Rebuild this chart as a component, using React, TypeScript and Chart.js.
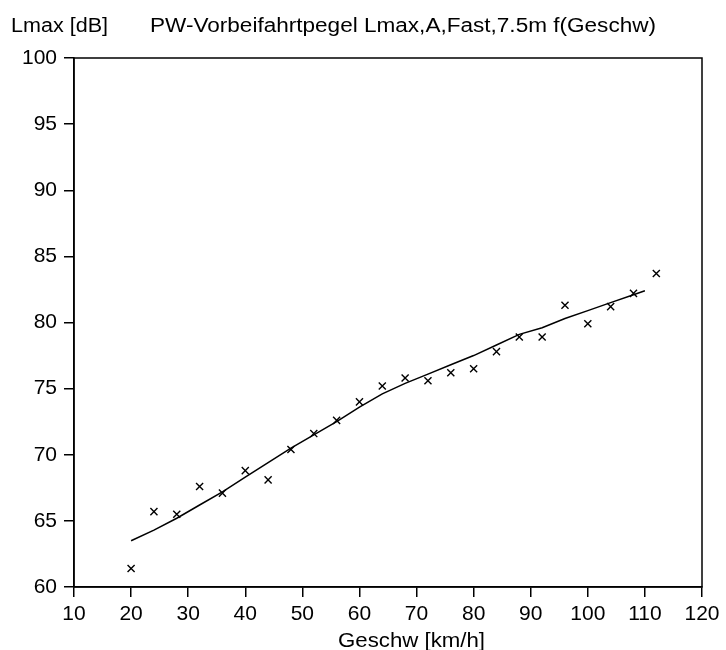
import React, { useEffect, useRef } from "react";
import { Chart, registerables } from "chart.js";

Chart.register(...registerables);

// Measured points (speed km/h, level dB)
const measuredSpeeds = [20, 24, 28, 32, 36, 40, 44, 48, 52, 56, 60, 64, 68, 72, 76, 80, 84, 88, 92, 96, 100, 104, 108, 112];
const measuredLevels = [61.4, 65.7, 65.5, 67.6, 67.1, 68.8, 68.1, 70.4, 71.6, 72.6, 74.0, 75.2, 75.8, 75.6, 76.2, 76.5, 77.8, 78.9, 78.9, 81.3, 79.9, 81.2, 82.2, 83.7];

// Fitted curve
const fitSpeeds = [20, 24, 28, 32, 36, 40, 44, 48, 52, 56, 60, 64, 68, 72, 76, 80, 84, 88, 92, 96, 100, 104, 108, 110];
const fitLevels = [63.5, 64.3, 65.2, 66.2, 67.2, 68.3, 69.4, 70.5, 71.5, 72.5, 73.6, 74.6, 75.4, 76.1, 76.8, 77.5, 78.3, 79.1, 79.6, 80.3, 80.9, 81.5, 82.1, 82.4];

const yAxisLabel = "Lmax [dB]";
const chartTitle = "PW-Vorbeifahrtpegel Lmax,A,Fast,7.5m f(Geschw)";
const xAxisLabel = "Geschw [km/h]";

const FONT = "'Liberation Sans', Arial, Helvetica, sans-serif";

function drawStretched(
  ctx: CanvasRenderingContext2D,
  text: string,
  left: number,
  baseline: number,
  targetWidth: number
) {
  const w = ctx.measureText(text).width;
  const sx = targetWidth / w;
  ctx.save();
  ctx.translate(left, baseline);
  ctx.scale(sx, 1);
  ctx.textAlign = "left";
  ctx.textBaseline = "alphabetic";
  ctx.fillText(text, 0, 0);
  ctx.restore();
}

export default function App() {
  const ref = useRef<HTMLCanvasElement | null>(null);

  useEffect(() => {
    if (!ref.current) return;

    const textPlugin = {
      id: "texts",
      afterDraw(chart: any) {
        const ctx = chart.ctx as CanvasRenderingContext2D;
        const a = chart.chartArea;
        ctx.save();
        ctx.strokeStyle = "#000";
        ctx.lineWidth = 1.5;
        ctx.strokeRect(a.left, a.top, a.right - a.left, a.bottom - a.top);
        ctx.fillStyle = "#000";
        ctx.font = `20px ${FONT}`;
        drawStretched(ctx, yAxisLabel, 11, 32, 97);
        drawStretched(ctx, chartTitle, 150, 32, 506);
        drawStretched(ctx, xAxisLabel, 338, 647, 147);
        ctx.restore();
      },
    };

    const chart = new Chart(ref.current, {
      type: "scatter",
      data: {
        datasets: [
          {
            label: "Messwerte",
            data: measuredSpeeds.map((x, i) => ({ x, y: measuredLevels[i] })),
            showLine: false,
            pointStyle: "crossRot",
            pointRadius: 5,
            pointBorderWidth: 1.4,
            borderColor: "#000",
            backgroundColor: "#000",
          },
          {
            label: "Regression",
            data: fitSpeeds.map((x, i) => ({ x, y: fitLevels[i] })),
            showLine: true,
            pointRadius: 0,
            borderColor: "#000",
            borderWidth: 1.5,
            tension: 0,
            fill: false,
          },
        ],
      },
      options: {
        animation: false,
        responsive: false,
        devicePixelRatio: 1,
        layout: { padding: { top: 58, right: 24, left: 0, bottom: 0 } },
        plugins: {
          legend: { display: false },
          tooltip: { enabled: false },
          title: { display: false },
        },
        scales: {
          x: {
            type: "linear",
            min: 10,
            max: 120,
            afterFit: (s: any) => {
              s.height = 63;
            },
            ticks: {
              stepSize: 10,
              color: "#000",
              padding: 5,
              font: { family: FONT, size: 21 },
              maxRotation: 0,
            },
            grid: {
              drawOnChartArea: false,
              tickLength: 10,
              color: "#000",
              lineWidth: 1.5,
            },
            border: { color: "#000", width: 1.5 },
          },
          y: {
            type: "linear",
            min: 60,
            max: 100,
            afterFit: (s: any) => {
              s.width = 74;
            },
            ticks: {
              stepSize: 5,
              color: "#000",
              padding: 7,
              font: { family: FONT, size: 21 },
            },
            grid: {
              drawOnChartArea: false,
              tickLength: 10,
              color: "#000",
              lineWidth: 1.5,
            },
            border: { color: "#000", width: 1.5 },
          },
        },
      },
      plugins: [textPlugin],
    });

    return () => chart.destroy();
  }, []);

  return (
    <div style={{ position: "absolute", left: 0, top: 0, width: 726, height: 650, background: "#fff" }}>
      <canvas ref={ref} width={726} height={650} style={{ display: "block", width: 726, height: 650 }} />
    </div>
  );
}
